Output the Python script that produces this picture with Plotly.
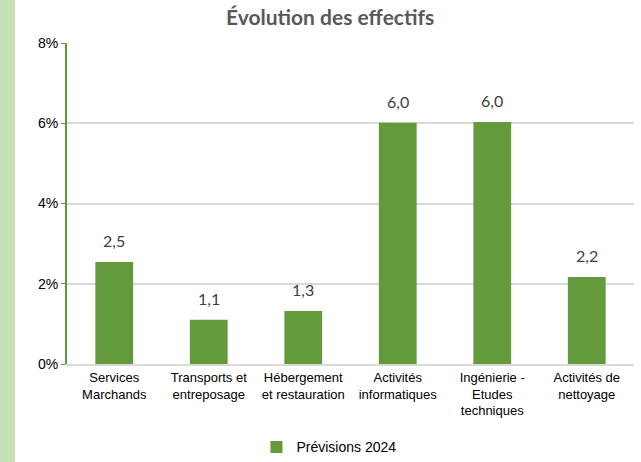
import plotly.graph_objects as go

categories = ["Services<br>Marchands", "Transports et<br>entreposage", "Hébergement<br>et restauration",
              "Activités<br>informatiques", "Ingénierie -<br>Etudes<br>techniques", "Activités de<br>nettoyage"]
values = [2.54, 1.10, 1.32, 6.01, 6.03, 2.17]
series_name = "Prévisions 2024"
y_ticks = [0, 2, 4, 6, 8]
y_tick_labels = ["0%", "2%", "4%", "6%", "8%"]

labels = [f"{v:.1f}".replace(".", ",") for v in values]

W, H = 641, 462
ml, mr, mt, mb = 67, 7, 43, 98
pw = W - ml - mr
ph = H - mt - mb

fig = go.Figure()
fig.add_trace(go.Bar(
    x=categories, y=values, name=series_name,
    marker=dict(color="#629a3c", line=dict(width=0)),
    width=0.4,
    showlegend=True,
))

for c, v, t in zip(categories, values, labels):
    fig.add_annotation(x=c, y=v, text=t, showarrow=False, yanchor="bottom", yshift=10,
                       font=dict(family="Lato, Open Sans, sans-serif", size=16, color="#404040"))

fig.update_layout(
    width=W, height=H,
    margin=dict(l=ml, r=mr, t=mt, b=mb, autoexpand=False),
    paper_bgcolor="white", plot_bgcolor="white",
    title=dict(text="<b>Évolution des effectifs</b>", x=0.515, xanchor="center", y=0.977, yanchor="top",
               font=dict(family="Lato, Open Sans, sans-serif", size=21, color="#595959")),
    xaxis=dict(showline=True, linecolor="#d9d9d9", linewidth=2, ticks="", automargin=False,
               tickfont=dict(family="Liberation Sans, Arial, sans-serif", size=13, color="#000000"),
               tickangle=0),
    yaxis=dict(range=[0, 8], tickvals=y_ticks, ticktext=y_tick_labels, showgrid=True, automargin=False,
               gridcolor="#d9d9d9", gridwidth=1.5, showline=True, linecolor="#5f9a3a", linewidth=2,
               ticks="outside", ticklen=4, tickcolor="#5f9a3a", zeroline=False,
               tickfont=dict(family="Liberation Sans, Arial, sans-serif", size=14, color="#000000")),
    legend=dict(orientation="h", x=0.462, xanchor="center", y=-0.21, yanchor="top", itemwidth=30,
                font=dict(family="Liberation Sans, Arial, sans-serif", size=14, color="#000000")),
    showlegend=True,
    shapes=[dict(type="rect", xref="paper", yref="paper",
                 x0=-ml / pw, x1=(15 - ml) / pw, y0=-mb / ph, y1=1 + mt / ph,
                 fillcolor="#c5e0b4", line=dict(width=0), layer="below")],
)

fig.write_html("out.html", config={"displayModeBar": False},
               post_script="document.body.style.margin='0';")
